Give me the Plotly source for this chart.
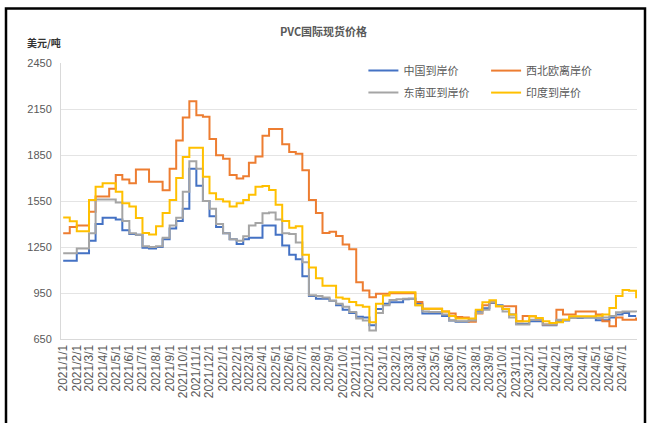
import plotly.graph_objects as go

# semi-monthly observation dates 2021-01-01 .. 2024-08-01
dates = []
for y in range(2021, 2025):
    for m in range(1, 13):
        if y == 2024 and m > 8:
            break
        dates.append(f"{y}-{m:02d}-01")
        if not (y == 2024 and m == 8):
            dates.append(f"{y}-{m:02d}-16")

china = [1160, 1160, 1210, 1210, 1290, 1400, 1440, 1440, 1430, 1360,
         1335, 1330, 1245, 1240, 1250, 1300, 1370, 1420, 1500, 1760,
         1650, 1550, 1450, 1380, 1340, 1300, 1270, 1300, 1310, 1310,
         1390, 1390, 1330, 1260, 1200, 1170, 1060, 930, 912, 912,
         900, 870, 840, 820, 795, 790, 740, 845, 880, 890,
         890, 910, 912, 880, 816, 816, 816, 800, 770, 762,
         762, 770, 835, 850, 885, 870, 845, 810, 750, 750,
         766, 766, 740, 740, 766, 770, 787, 787, 790, 790,
         772, 772, 790, 810, 820, 800, 800]

nw_europe = [1340, 1380, 1390, 1390, 1480, 1579, 1580, 1630, 1720, 1690,
             1665, 1755, 1755, 1676, 1676, 1620, 1760, 1944, 2095, 2200,
             2110, 2100, 1955, 1848, 1826, 1719, 1697, 1712, 1800, 1840,
             1975, 2020, 2020, 1920, 1870, 1858, 1750, 1557, 1471, 1342,
             1350, 1321, 1267, 1235, 1020, 966, 923, 945, 945, 949,
             949, 949, 949, 891, 848, 848, 848, 830, 816, 794,
             790, 762, 816, 870, 890, 863, 863, 863, 766, 800,
             798, 776, 744, 744, 841, 809, 809, 830, 830, 830,
             809, 766, 733, 790, 776, 776, 790]

se_asia = [1210, 1210, 1240, 1240, 1340, 1560, 1560, 1560, 1540, 1420,
           1340, 1330, 1255, 1250, 1255, 1310, 1390, 1440, 1610, 1810,
           1760, 1550, 1500, 1400, 1340, 1300, 1290, 1320, 1390, 1407,
           1470, 1475, 1430, 1340, 1335, 1280, 1150, 935, 930, 920,
           900, 880, 860, 826, 783, 770, 705, 820, 870, 905,
           910, 912, 912, 870, 830, 826, 826, 810, 770, 765,
           765, 770, 820, 840, 890, 865, 830, 790, 745, 745,
           776, 776, 745, 745, 776, 776, 787, 790, 790, 790,
           787, 790, 800, 825, 830, 830, 825]

india = [1443, 1418, 1353, 1353, 1557, 1643, 1665, 1665, 1611, 1536,
         1514, 1439, 1342, 1332, 1385, 1471, 1557, 1700, 1837, 1897,
         1897, 1708, 1600, 1562, 1547, 1514, 1536, 1557, 1590, 1643,
         1648, 1622, 1525, 1420, 1375, 1385, 1200, 1117, 1046, 998,
         998, 920, 912, 891, 870, 860, 760, 880, 934, 955,
         955, 955, 955, 870, 848, 848, 848, 830, 800, 783,
         783, 783, 840, 890, 902, 863, 845, 809, 766, 766,
         798, 787, 766, 755, 760, 776, 798, 798, 798, 798,
         802, 810, 852, 930, 970, 965, 915]

tick_vals = []
tick_text = []
for y in range(2021, 2025):
    for m in range(1, 13):
        if y == 2024 and m > 7:
            break
        tick_vals.append(f"{y}-{m:02d}-01")
        tick_text.append(f"{y}/{m}/1")

y_ticks = [650, 950, 1250, 1550, 1850, 2150, 2450]

FONT = "Liberation Sans, 'Noto Sans CJK SC', sans-serif"
CJK = "'Noto Sans CJK SC', sans-serif"

series = [
    ("中国到岸价", china, "#4472C4", "legend"),
    ("西北欧离岸价", nw_europe, "#ED7D31", "legend2"),
    ("东南亚到岸价", se_asia, "#A5A5A5", "legend"),
    ("印度到岸价", india, "#FFC000", "legend2"),
]

fig = go.Figure()
for name, vals, color, lg in series:
    fig.add_trace(go.Scatter(
        x=dates, y=vals, name=name, mode="lines",
        line=dict(color=color, width=2, shape="hv"),
        legend=lg, legendgroup=name,
    ))

legend_common = dict(
    y=1.025, yanchor="top", xanchor="left",
    bgcolor="rgba(0,0,0,0)", traceorder="grouped", tracegroupgap=3,
    font=dict(family=CJK, size=11, color="#595959"),
)

fig.update_layout(
    width=647, height=423,
    margin=dict(l=61, r=10, t=63, b=84, autoexpand=False),
    paper_bgcolor="white", plot_bgcolor="white",
    font=dict(family=FONT, color="#595959", size=11),
    title=dict(text="<b>PVC国际现货价格</b>", x=0.5, xanchor="center",
               y=1 - 32 / 423, yanchor="middle", yref="container",
               font=dict(family=CJK, size=11, color="#595959")),
    showlegend=True,
    legend=dict(x=0.525, **legend_common),
    legend2=dict(x=0.738, **legend_common),
    xaxis=dict(
        type="date", automargin=False,
        range=["2020-12-27", "2024-08-03"],
        tickmode="array", tickvals=tick_vals, ticktext=tick_text,
        tickangle=-90, tickfont=dict(size=12, color="#595959"),
        showgrid=False, showline=True, linecolor="#D9D9D9", linewidth=1,
        ticks="", zeroline=False,
    ),
    yaxis=dict(
        range=[650, 2450], tickmode="array", tickvals=y_ticks,
        automargin=False,
        tickfont=dict(size=11, color="#595959"),
        showgrid=True, gridcolor="#E4E4E4", gridwidth=1,
        showline=True, linecolor="#D9D9D9", linewidth=1,
        zeroline=False, ticks="outside", ticklen=6, tickcolor="white",
    ),
    annotations=[dict(
        text="<b>美元/吨</b>", xref="paper", yref="paper",
        x=(25 - 61) / 576, y=(339 - 42) / 276,
        xanchor="left", yanchor="middle", showarrow=False,
        font=dict(family=CJK, size=10, color="#333333"),
    )],
    shapes=[dict(
        type="rect", xref="paper", yref="paper",
        x0=(6 - 61) / 576, x1=(645 - 61) / 576,
        y0=(339 - 430) / 276, y1=(339 - 8.5) / 276,
        line=dict(color="black", width=2.5), fillcolor="rgba(0,0,0,0)",
        layer="above",
    )],
)

fig.write_html(
    "out.html",
    config={"displayModeBar": False},
    post_script="document.body.style.margin='0';document.body.style.overflow='hidden';",
)
